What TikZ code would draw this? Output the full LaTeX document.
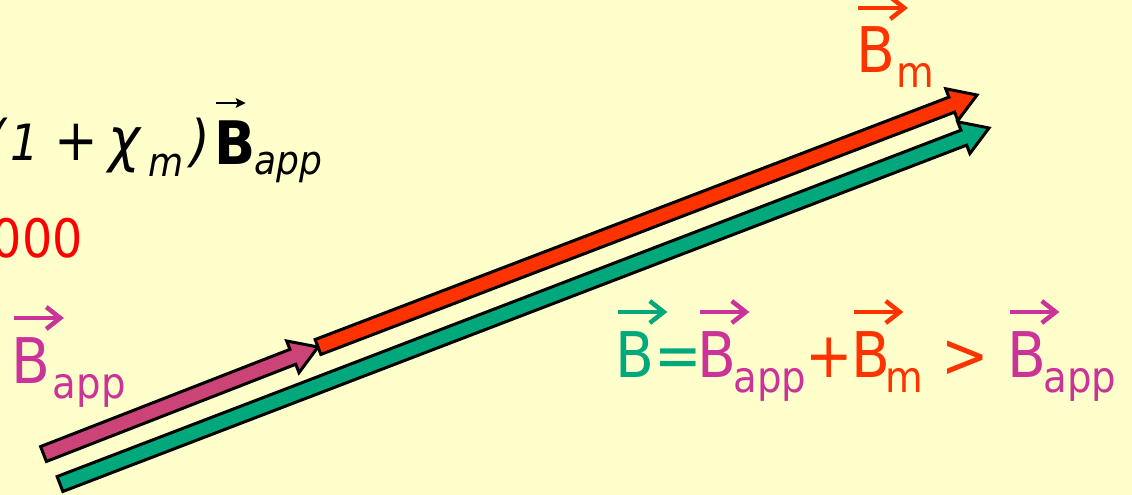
\documentclass[tikz,border=0pt]{standalone}
\usepackage{fontspec}
\setmainfont{DejaVu Sans Condensed}
\usetikzlibrary{calc}
\definecolor{bgc}{HTML}{FFFFCC}
\definecolor{pinkt}{HTML}{CC3399}
\definecolor{pinka}{HTML}{CC4477}
\definecolor{redt}{HTML}{FF3300}
\definecolor{greent}{HTML}{00A87C}
\definecolor{redd}{HTML}{FF0000}
\newcommand\mainsz{\fontsize{63}{70}\selectfont}
\newcommand\subsz{\fontsize{43}{48}\selectfont}
\newcommand\putat[2]{\rlap{\kern#1pt #2}}
\newcommand\subat[2]{\putat{#1}{\raisebox{-15pt}{\subsz #2}}}
% vector arrow drawn above a B (pen position at 0)
\newcommand\varr{\rlap{\tikz[x=1pt,y=1pt,baseline=0pt]{%
  \draw[line width=4.5pt] (1,65)--(46,65);
  \draw[line width=4.5pt,line join=miter,line cap=butt] (33,76)--(47,65)--(33,54);}}}
\newcommand\vecB{\varr B}
\tikzset{
  fatarrow/.style={draw=black,line width=3pt,line join=miter},
  lbl/.style={anchor=base west,inner sep=0pt,outer sep=0pt}
}
\newcommand\fatarrow[3]{%
  \coordinate (h) at ($(#2)!27pt!(#1)$);
  \filldraw[fatarrow,fill=#3]
    ($(#1)!8pt!90:(#2)$) -- ($(h)!8pt!90:(#2)$) -- ($(h)!17pt!90:(#2)$) -- (#2)
    -- ($(h)!17pt!-90:(#2)$) -- ($(h)!8pt!-90:(#2)$) -- ($(#1)!8pt!-90:(#2)$) -- cycle;
}
\begin{document}
\begin{tikzpicture}[x=1pt,y=-1pt]
\fill[bgc] (0,0) rectangle (1132,495);
\useasboundingbox (0,0) rectangle (1132,495);
% arrows
\coordinate (p0) at (43.5,454);
\coordinate (p1) at (318,347);
\coordinate (r1) at (977,95);
\coordinate (g0) at (60,484);
\coordinate (g1) at (989,128);
\fatarrow{g0}{g1}{greent}
\fatarrow{p0}{p1}{pinka}
\fatarrow{p1}{r1}{redt}
% top-left formula
\node[lbl] (formula) at (0,160) {%
  \itshape
  \putat{-14}{\fontsize{56}{60}\selectfont(}%
  \putat{10}{\fontsize{50}{56}\selectfont 1}%
  \putat{54}{\upshape\fontsize{58}{60}\selectfont +}%
  \putat{108}{\fontsize{60}{64}\selectfont χ}%
  \putat{148}{\raisebox{-16pt}{\fontsize{40}{44}\selectfont m}}%
  \putat{190}{\fontsize{56}{60}\selectfont )}%
  \putat{214}{\raisebox{-4pt}{\upshape\bfseries\fontsize{60}{64}\selectfont
     \rlap{\tikz[x=1pt,y=1pt,baseline=0pt]{%
       \draw[line width=2.2pt] (8,61)--(32,61);
       \fill (38,61)--(28,66)--(30,61)--(28,56)--cycle;}}B}}%
  \putat{254}{\raisebox{-14pt}{\fontsize{40}{44}\selectfont app}}%
};
\node[anchor=base east,inner sep=0pt,text=redd] (chi) at (83,257) {\fontsize{53}{56}\selectfont 000};
% labels
\node[lbl,text=pinkt] (bapp) at (12,383) {\mainsz\vecB\subat{2}{app}};
\node[lbl,text=redt] (bm) at (856,73) {\mainsz\vecB\subat{2}{m}};
\node[lbl] (eq) at (615,377) {\mainsz
  \putat{0}{\color{greent}\vecB}%
  \putat{39}{\color{greent}=}%
  \putat{82}{\color{pinkt}\vecB}%
  \subat{118}{\color{pinkt}app}%
  \putat{190}{\color{redt}+}%
  \putat{236}{\color{redt}\vecB}%
  \subat{270}{\color{redt}m}%
  \putat{326}{\color{redt}>}%
  \putat{392}{\color{pinkt}\vecB}%
  \subat{428}{\color{pinkt}app}%
};
\end{tikzpicture}
\end{document}
